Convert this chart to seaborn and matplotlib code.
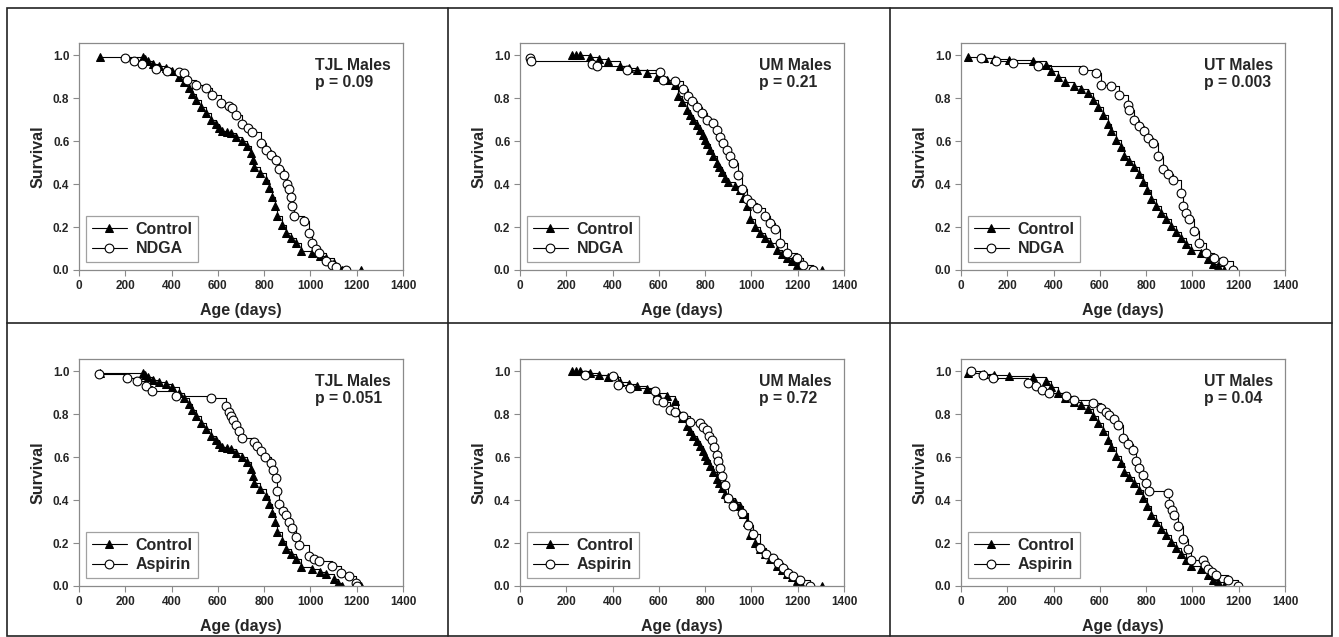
import matplotlib
matplotlib.use("Agg")
import matplotlib.pyplot as plt
import seaborn as sns
from matplotlib.lines import Line2D
from matplotlib.patches import Rectangle

# Kaplan-Meier points: age (days) and survival fraction

# control groups (same cohort shown in the NDGA row and the aspirin row)
tjl_ctrl_age = [89, 275, 285, 300, 320, 345, 374, 400, 432, 455,
                475, 490, 504, 525, 547, 570, 590, 605, 619, 640,
                655, 680, 706, 725, 742, 750, 756, 780, 806, 820,
                835, 845, 857, 875, 893, 915, 936, 958, 1008, 1040,
                1066, 1102, 1120, 1138, 1217]
tjl_ctrl_surv = [0.99, 0.99, 0.98, 0.97, 0.96, 0.95, 0.94, 0.925, 0.90, 0.875,
                 0.845, 0.82, 0.79, 0.76, 0.73, 0.70, 0.68, 0.66, 0.645, 0.64,
                 0.635, 0.62, 0.60, 0.575, 0.545, 0.51, 0.48, 0.45, 0.42, 0.38,
                 0.34, 0.30, 0.25, 0.21, 0.172, 0.15, 0.126, 0.087, 0.08, 0.065,
                 0.056, 0.033, 0.015, 0.0, 0.0]

um_ctrl_age = [223, 240, 259, 302, 340, 380, 432, 470, 504, 550,
               590, 634, 670, 684, 700, 720, 735, 749, 765, 778,
               790, 799, 810, 821, 835, 850, 860, 871, 885, 900,
               930, 950, 965, 979, 994, 1015, 1037, 1060, 1080, 1109,
               1130, 1152, 1175, 1195, 1217, 1305]
um_ctrl_surv = [1.0, 1.0, 1.0, 0.99, 0.98, 0.97, 0.947, 0.94, 0.93, 0.915,
                0.90, 0.885, 0.862, 0.81, 0.78, 0.745, 0.72, 0.70, 0.675, 0.65,
                0.63, 0.606, 0.585, 0.56, 0.53, 0.50, 0.48, 0.455, 0.43, 0.41,
                0.39, 0.37, 0.335, 0.30, 0.235, 0.20, 0.172, 0.15, 0.126, 0.095,
                0.075, 0.056, 0.04, 0.025, 0.0, 0.0]

ut_ctrl_age = [29, 100, 144, 209, 310, 367, 390, 418, 450, 490,
               520, 547, 570, 590, 612, 634, 650, 670, 690, 706,
               727, 749, 767, 785, 803, 821, 842, 864, 885, 907,
               928, 950, 972, 994, 1037, 1066, 1090, 1109, 1138]
ut_ctrl_surv = [0.99, 0.985, 0.98, 0.975, 0.97, 0.955, 0.925, 0.90, 0.875, 0.855,
                0.84, 0.824, 0.79, 0.76, 0.72, 0.68, 0.645, 0.606, 0.57, 0.53,
                0.505, 0.48, 0.445, 0.41, 0.37, 0.33, 0.30, 0.265, 0.235, 0.203,
                0.175, 0.149, 0.12, 0.095, 0.08, 0.049, 0.03, 0.018, 0.0]

# NDGA groups
tjl_ndga_age = [199, 238, 274, 331, 380, 432, 454, 468, 504, 547,
                576, 612, 650, 662, 677, 706, 730, 749, 785, 806,
                830, 850, 864, 886, 900, 907, 914, 921, 929, 972,
                994, 1008, 1022, 1037, 1066, 1094, 1110, 1155]
tjl_ndga_surv = [0.985, 0.97, 0.96, 0.935, 0.925, 0.92, 0.915, 0.885, 0.862, 0.845,
                 0.815, 0.777, 0.765, 0.754, 0.722, 0.68, 0.66, 0.64, 0.59, 0.56,
                 0.535, 0.514, 0.47, 0.44, 0.40, 0.377, 0.34, 0.30, 0.25, 0.227,
                 0.172, 0.126, 0.10, 0.08, 0.041, 0.025, 0.015, 0.0]

um_ndga_age = [43, 48, 310, 331, 461, 605, 619, 670, 706, 727,
               745, 763, 785, 806, 835, 850, 864, 878, 893, 908,
               922, 943, 958, 979, 1000, 1022, 1058, 1080, 1102, 1123,
               1152, 1195, 1224, 1267]
um_ndga_surv = [0.985, 0.97, 0.96, 0.947, 0.93, 0.92, 0.885, 0.877, 0.84, 0.81,
                0.785, 0.76, 0.73, 0.70, 0.685, 0.65, 0.62, 0.59, 0.56, 0.53,
                0.50, 0.44, 0.377, 0.33, 0.31, 0.29, 0.25, 0.22, 0.19, 0.126,
                0.08, 0.056, 0.025, 0.0]

ut_ndga_age = [86, 151, 223, 331, 526, 583, 605, 648, 684, 720,
               727, 749, 770, 792, 810, 828, 850, 871, 893, 914,
               950, 958, 972, 986, 1008, 1030, 1058, 1094, 1130, 1174]
ut_ndga_surv = [0.986, 0.97, 0.962, 0.947, 0.93, 0.915, 0.862, 0.855, 0.815, 0.768,
                0.745, 0.70, 0.67, 0.645, 0.615, 0.59, 0.53, 0.47, 0.445, 0.42,
                0.36, 0.30, 0.265, 0.235, 0.18, 0.126, 0.08, 0.056, 0.041, 0.0]

# aspirin groups
tjl_asp_age = [86, 209, 252, 288, 317, 418, 569, 634, 648, 655,
               665, 677, 690, 706, 756, 770, 785, 805, 828, 840,
               850, 857, 864, 880, 893, 908, 922, 936, 950, 994,
               1015, 1037, 1094, 1130, 1166, 1195, 1200]
tjl_asp_surv = [0.985, 0.967, 0.952, 0.93, 0.905, 0.882, 0.874, 0.836, 0.81, 0.79,
                0.77, 0.75, 0.72, 0.688, 0.672, 0.65, 0.626, 0.60, 0.572, 0.54,
                0.502, 0.44, 0.38, 0.35, 0.332, 0.30, 0.27, 0.23, 0.192, 0.138,
                0.125, 0.115, 0.092, 0.06, 0.045, 0.014, 0.0]

um_asp_age = [281, 403, 425, 475, 583, 590, 619, 648, 670, 706,
              734, 778, 792, 806, 818, 828, 840, 850, 857, 864,
              875, 886, 900, 922, 958, 986, 1008, 1037, 1065, 1094,
              1115, 1138, 1160, 1181, 1210, 1253]
um_asp_surv = [0.983, 0.975, 0.936, 0.92, 0.905, 0.866, 0.858, 0.82, 0.81, 0.79,
               0.765, 0.758, 0.74, 0.727, 0.70, 0.68, 0.645, 0.61, 0.58, 0.55,
               0.51, 0.47, 0.41, 0.37, 0.34, 0.285, 0.24, 0.178, 0.15, 0.13,
               0.105, 0.084, 0.06, 0.045, 0.029, 0.0]

ut_asp_age = [43, 94, 137, 288, 324, 350, 382, 454, 490, 569,
              605, 625, 641, 660, 677, 698, 720, 742, 756, 770,
              785, 800, 814, 893, 900, 910, 922, 936, 958, 979,
              994, 1044, 1055, 1066, 1085, 1102, 1152, 1195]
ut_asp_surv = [1.0, 0.983, 0.967, 0.944, 0.93, 0.91, 0.898, 0.882, 0.866, 0.85,
               0.828, 0.81, 0.797, 0.775, 0.75, 0.688, 0.66, 0.634, 0.58, 0.55,
               0.518, 0.48, 0.44, 0.432, 0.38, 0.355, 0.332, 0.278, 0.22, 0.17,
               0.123, 0.12, 0.10, 0.08, 0.065, 0.05, 0.026, 0.0]

sites = ["TJL Males", "UM Males", "UT Males",
         "TJL Males", "UM Males", "UT Males"]
p_values = ["p = 0.09", "p = 0.21", "p = 0.003",
            "p = 0.051", "p = 0.72", "p = 0.04"]
treatments = ["NDGA", "NDGA", "NDGA", "Aspirin", "Aspirin", "Aspirin"]
x_ticks = [0, 200, 400, 600, 800, 1000, 1200, 1400]
y_ticks = [0.0, 0.2, 0.4, 0.6, 0.8, 1.0]

controls = [(tjl_ctrl_age, tjl_ctrl_surv), (um_ctrl_age, um_ctrl_surv),
            (ut_ctrl_age, ut_ctrl_surv)] * 2
treated = [(tjl_ndga_age, tjl_ndga_surv), (um_ndga_age, um_ndga_surv),
           (ut_ndga_age, ut_ndga_surv), (tjl_asp_age, tjl_asp_surv),
           (um_asp_age, um_asp_surv), (ut_asp_age, ut_asp_surv)]

sns.set_style("white")
plt.rcParams["font.family"] = ["Liberation Sans", "DejaVu Sans"]
plt.rcParams["font.weight"] = "bold"

W, H = 1339, 637
fig = plt.figure(figsize=(W / 100, H / 100), dpi=100)
fig.patch.set_facecolor("white")

lefts = [79, 520, 961]
tops = [43, 359]
aw, ah = 324, 227
spine_col = "#8a8a8a"

for i in range(6):
    r, c = divmod(i, 3)
    ax = fig.add_axes([lefts[c] / W, 1 - (tops[r] + ah) / H, aw / W, ah / H])
    cx, cy = controls[i]
    tx, ty = treated[i]
    sns.lineplot(x=cx, y=cy, ax=ax, estimator=None, sort=False,
                 drawstyle="steps-post", color="black", linewidth=0.8,
                 marker="^", markersize=5.5, markerfacecolor="black",
                 markeredgecolor="black", label="Control")
    sns.lineplot(x=tx, y=ty, ax=ax, estimator=None, sort=False,
                 drawstyle="steps-post", color="black", linewidth=0.8,
                 marker="o", markersize=6.3, markerfacecolor="white",
                 markeredgecolor="black", markeredgewidth=0.8,
                 label=treatments[i])
    ax.set_xlim(0, 1400)
    ax.set_ylim(0, 1.056)
    ax.set_xticks(x_ticks)
    ax.set_yticks(y_ticks)
    ax.set_xticklabels([str(t) for t in x_ticks], fontsize=8.5, fontweight="bold")
    ax.set_yticklabels([f"{t:.1f}" for t in y_ticks], fontsize=8.5, fontweight="bold")
    ax.tick_params(direction="out", length=4, width=0.8, color=spine_col,
                   pad=3, bottom=True, left=True)
    for s in ax.spines.values():
        s.set_color(spine_col)
        s.set_linewidth(0.9)
    ax.set_xlabel("Age (days)", fontsize=11.5, fontweight="bold", labelpad=8)
    ax.set_ylabel("Survival", fontsize=11.5, fontweight="bold", labelpad=5)
    ax.text(0.963, 0.935, f"{sites[i]}\n{p_values[i]}", transform=ax.transAxes,
            ha="right", va="top", multialignment="left", fontsize=11.3,
            fontweight="bold", linespacing=1.15)
    leg = ax.legend(loc="lower left", bbox_to_anchor=(0.022, 0.035), frameon=True,
                    fancybox=False, edgecolor=spine_col, fontsize=11.5,
                    handlelength=2.2, handletextpad=0.55, borderpad=0.35,
                    labelspacing=0.3, borderaxespad=0)
    leg.get_frame().set_linewidth(0.9)
    for t in leg.get_texts():
        t.set_fontweight("bold")

# panel borders
edge = "#222222"
fig.add_artist(Rectangle((7 / W, 1 - 636 / H), (1332 - 7) / W, (636 - 8) / H,
                         transform=fig.transFigure, fill=False, lw=1.2, ec=edge))
for xv in [448, 890]:
    fig.add_artist(Line2D([xv / W, xv / W], [1 - 636 / H, 1 - 8 / H],
                          transform=fig.transFigure, lw=1.2, color=edge))
fig.add_artist(Line2D([7 / W, 1332 / W], [1 - 323 / H, 1 - 323 / H],
                      transform=fig.transFigure, lw=1.2, color=edge))

fig.savefig("out.png", dpi=100, facecolor="white")
